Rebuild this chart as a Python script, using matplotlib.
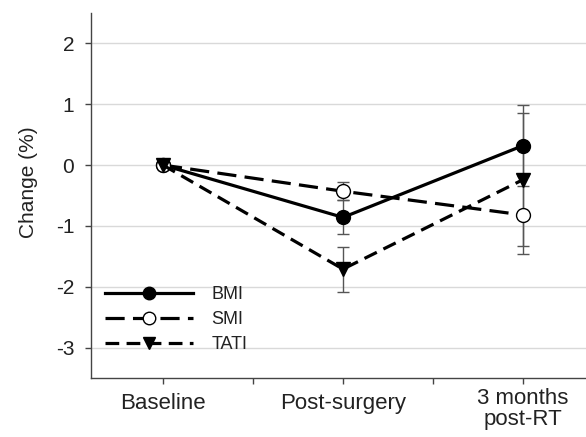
import matplotlib
matplotlib.use("Agg")
import matplotlib.pyplot as plt
import matplotlib.transforms as mtransforms
import numpy as np

plt.rcParams['font.family'] = ['Liberation Sans', 'DejaVu Sans']

categories = ["Baseline", "Post-surgery", "3 months\npost-RT"]
bmi = [0.0, -0.86, 0.32]
bmi_err = [0.0, 0.28, 0.66]
smi = [0.0, -0.43, -0.82]
smi_err = [0.0, 0.15, 0.64]
tati = [0.0, -1.71, -0.24]
tati_err = [0.0, 0.37, 1.09]
yticks = [-3, -2, -1, 0, 1, 2]

W, H = 586, 437
fig = plt.figure(figsize=(W / 100, H / 100), dpi=100)
ax_l, ax_r, ax_t, ax_b = 91, 586, 13, 378
ax = fig.add_axes([ax_l / W, 1 - ax_b / H, (ax_r - ax_l) / W, (ax_b - ax_t) / H])

x = np.arange(len(categories))
err_kw = dict(fmt='none', ecolor='#555555', elinewidth=1.0, capsize=4, capthick=1.0, zorder=2)
ax.errorbar(x[1:], bmi[1:], yerr=bmi_err[1:], **err_kw)
ax.errorbar(x[1:], smi[1:], yerr=smi_err[1:], **err_kw)
ax.errorbar(x[1:], tati[1:], yerr=tati_err[1:], **err_kw)

lw = 2.3
ax.plot(x, bmi, color='black', lw=lw, marker='o', ms=10, mfc='black', mec='black',
        label='BMI', zorder=3)
ax.plot(x, smi, color='black', lw=lw, dashes=(6, 2.6), marker='o', ms=10, mfc='white',
        mec='black', mew=1.0, label='SMI', zorder=3)
ax.plot(x, tati, color='black', lw=lw, dashes=(4.3, 2.3), marker='v', ms=10, mfc='black',
        mec='black', label='TATI', zorder=3)

ax.set_xlim(-0.4, -0.4 + (ax_r - ax_l) / 180)
ax.set_ylim(-3.5, 2.5)
ax.set_yticks(yticks)
ax.set_yticklabels([str(v) for v in yticks])
ax.set_xticks(x)
ax.set_xticklabels(categories)
ax.set_xticks([0.5, 1.5], minor=True)
ax.yaxis.grid(True, color='#d9d9d9', lw=1.0)
ax.set_axisbelow(True)

for s in ['top', 'right']:
    ax.spines[s].set_visible(False)
for s in ['left', 'bottom']:
    ax.spines[s].set_color('#444444')
    ax.spines[s].set_linewidth(1.0)

ax.tick_params(axis='y', which='major', length=4, width=1, color='#444444', pad=8,
               labelsize=15, labelcolor='#222222')
ax.tick_params(axis='x', which='major', length=4, width=1, color='#444444', pad=7,
               labelsize=16, labelcolor='#222222')
ax.tick_params(axis='x', which='minor', length=4, width=1, color='#444444')
xl = ax.get_xticklabels()
for lab in xl:
    lab.set_linespacing(1.0)
xl[2].set_transform(xl[2].get_transform() + mtransforms.ScaledTranslation(0, 5 / 100, fig.dpi_scale_trans))

fig.text(28 / W, 1 - 182 / H, "Change (%)", rotation=90, ha='center', va='center',
         fontsize=15, color='#222222')

leg = ax.legend(loc='upper left', bbox_to_anchor=(105 / W, 1 - 286 / H),
                bbox_transform=fig.transFigure, frameon=False, fontsize=13,
                handlelength=4.9, handletextpad=1.0, labelspacing=0.45,
                borderpad=0, borderaxespad=0, numpoints=1, markerscale=0.9)
for t in leg.get_texts():
    t.set_color('#222222')

fig.savefig("out.png", dpi=100)
